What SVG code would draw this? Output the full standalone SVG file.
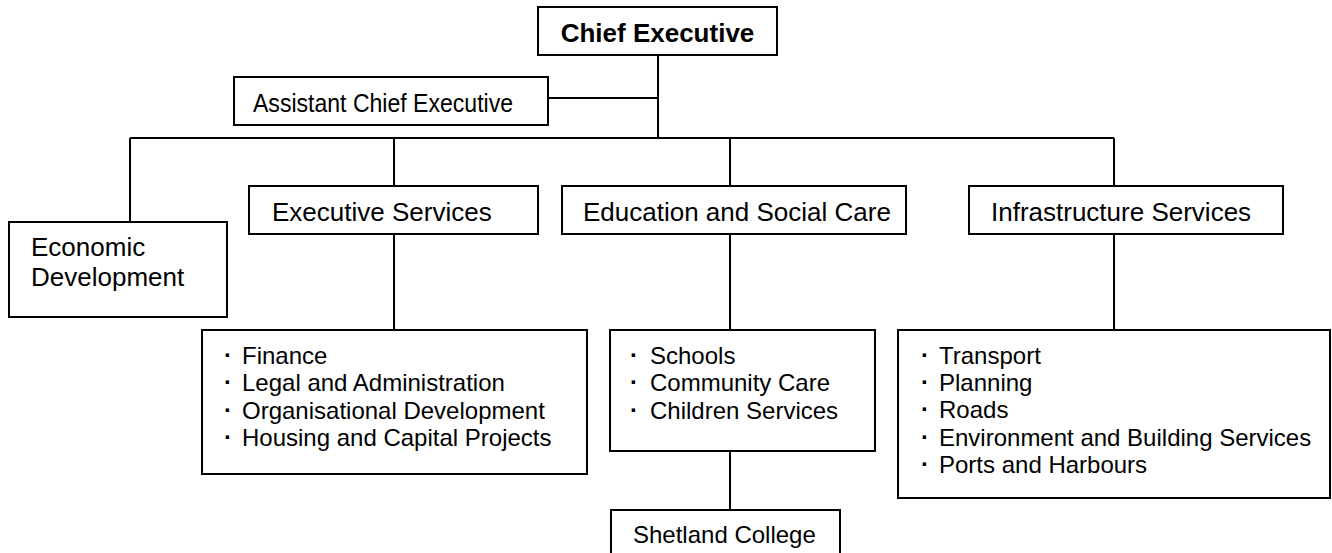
<svg xmlns="http://www.w3.org/2000/svg" width="1332" height="553" viewBox="0 0 1332 553">
<style>
.box{fill:#fff;stroke:#000;stroke-width:2}
.ln{stroke:#000;stroke-width:2;fill:none}
.t{font-family:"Liberation Sans",Arial,sans-serif;font-size:26px;fill:#000}
.b{font-weight:bold}
.s{font-family:"Liberation Sans",Arial,sans-serif;font-size:24px;fill:#000}
.d{font-size:24px;font-weight:bold}
</style>
<rect width="1332" height="553" fill="#fff"/>
<g id="connectors">
<path class="ln" d="M658 55V138"/>
<path class="ln" d="M548 98H658"/>
<path class="ln" d="M130 138H1114"/>
<path class="ln" d="M130 138V222"/>
<path class="ln" d="M394 138V186"/>
<path class="ln" d="M730 138V186"/>
<path class="ln" d="M1114 138V186"/>
<path class="ln" d="M394 234V330"/>
<path class="ln" d="M730 234V330"/>
<path class="ln" d="M1114 234V330"/>
<path class="ln" d="M730 451V510"/>
</g>
<g id="chief">
<rect class="box" x="538" y="7" width="239" height="48"/>
<text class="t b" x="657.5" y="42" text-anchor="middle">Chief Executive</text>
</g>
<g id="assistant">
<rect class="box" x="234" y="77" width="314" height="48"/>
<text class="t" x="253" y="112" textLength="260" lengthAdjust="spacingAndGlyphs">Assistant Chief Executive</text>
</g>
<g id="economic">
<rect class="box" x="9" y="222" width="218" height="95"/>
<text class="t" x="31" y="256">Economic</text>
<text class="t" x="31" y="286">Development</text>
</g>
<g id="exec">
<rect class="box" x="249" y="186" width="289" height="48"/>
<text class="t" x="272" y="221">Executive Services</text>
</g>
<g id="edu">
<rect class="box" x="562" y="186" width="344" height="48"/>
<text class="t" x="583" y="221">Education and Social Care</text>
</g>
<g id="infra">
<rect class="box" x="969" y="186" width="314" height="48"/>
<text class="t" x="991" y="221">Infrastructure Services</text>
</g>
<g id="exec-list">
<rect class="box" x="202" y="330" width="385" height="144"/>
<text class="s"><tspan class="d" x="224" y="363">·</tspan><tspan x="242" y="364">Finance</tspan></text>
<text class="s"><tspan class="d" x="224" y="390">·</tspan><tspan x="242" y="391">Legal and Administration</tspan></text>
<text class="s"><tspan class="d" x="224" y="418">·</tspan><tspan x="242" y="419">Organisational Development</tspan></text>
<text class="s"><tspan class="d" x="224" y="445">·</tspan><tspan x="242" y="446">Housing and Capital Projects</tspan></text>
</g>
<g id="edu-list">
<rect class="box" x="610" y="330" width="265" height="121"/>
<text class="s"><tspan class="d" x="630" y="363">·</tspan><tspan x="650" y="364">Schools</tspan></text>
<text class="s"><tspan class="d" x="630" y="390">·</tspan><tspan x="650" y="391">Community Care</tspan></text>
<text class="s"><tspan class="d" x="630" y="418">·</tspan><tspan x="650" y="419">Children Services</tspan></text>
</g>
<g id="college">
<rect class="box" x="611" y="510" width="229" height="60"/>
<text class="s" x="633" y="543">Shetland College</text>
</g>
<g id="infra-list">
<rect class="box" x="898" y="330" width="432" height="168"/>
<text class="s"><tspan class="d" x="921" y="363">·</tspan><tspan x="939" y="364">Transport</tspan></text>
<text class="s"><tspan class="d" x="921" y="390">·</tspan><tspan x="939" y="391">Planning</tspan></text>
<text class="s"><tspan class="d" x="921" y="417">·</tspan><tspan x="939" y="418">Roads</tspan></text>
<text class="s"><tspan class="d" x="921" y="445">·</tspan><tspan x="939" y="446">Environment and Building Services</tspan></text>
<text class="s"><tspan class="d" x="921" y="472">·</tspan><tspan x="939" y="473">Ports and Harbours</tspan></text>
</g>
</svg>
